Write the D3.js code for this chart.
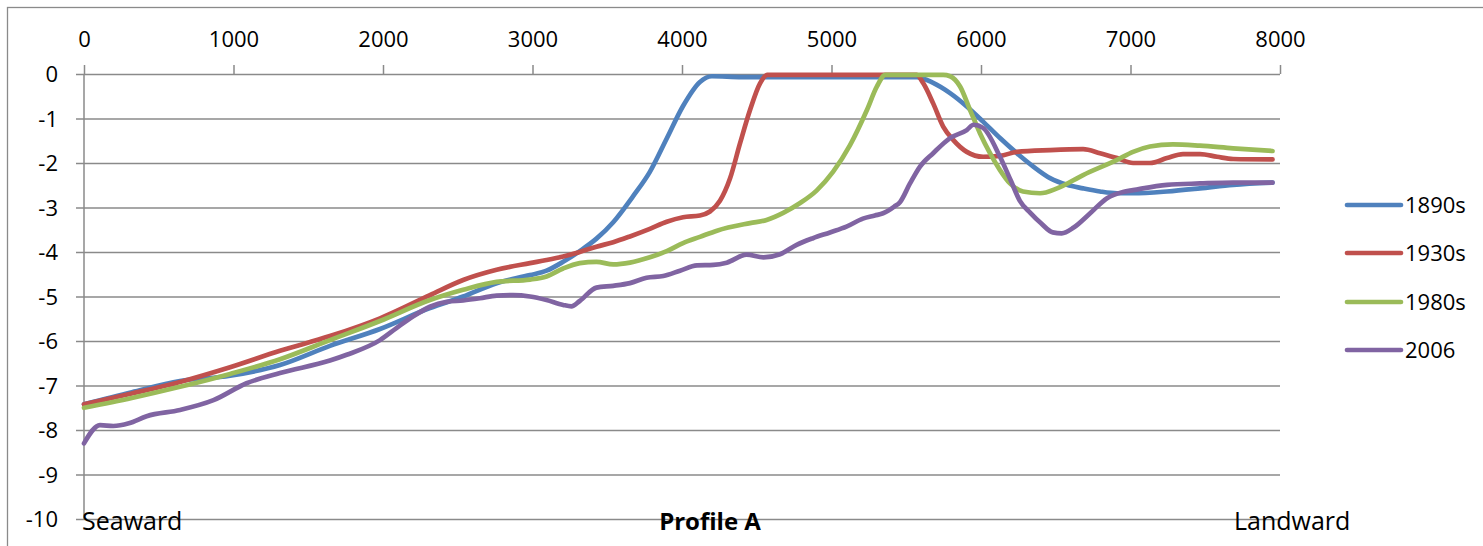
<!DOCTYPE html>
<html><head><meta charset="utf-8">
<script src="https://cdn.jsdelivr.net/npm/d3@7"></script>
<style>body{margin:0;background:#fff}svg{display:block}text{font-family:"Open Sans",sans-serif;fill:#000}</style>
</head><body>
<script>
const xTicks = [0,1000,2000,3000,4000,5000,6000,7000,8000];
const yTicks = [0,-1,-2,-3,-4,-5,-6,-7,-8,-9,-10];
const seriesNames = ["1890s","1930s","1980s","2006"];
const categoryLabels = ["Seaward","Profile A","Landward"];

const s1890 = [[0,-7.42],[320,-7.15],[642,-6.9],[977,-6.78],[1311,-6.54],[1645,-6.11],[1980,-5.73],[2314,-5.26],[2536,-5.0],[2760,-4.7],[2983,-4.52],[3094,-4.42],[3205,-4.22],[3316,-3.98],[3428,-3.7],[3540,-3.33],[3672,-2.75],[3785,-2.2],[3898,-1.45],[4007,-0.72],[4120,-0.18],[4200,-0.05],[4400,-0.07],[5000,-0.07],[5570,-0.07],[5680,-0.2],[5793,-0.43],[5905,-0.73],[6014,-1.07],[6127,-1.44],[6240,-1.78],[6350,-2.08],[6462,-2.34],[6575,-2.49],[6683,-2.57],[6796,-2.64],[6910,-2.68],[7017,-2.68],[7244,-2.64],[7465,-2.57],[7686,-2.49],[7950,-2.44]];
const s1930 = [[0,-7.42],[320,-7.18],[642,-6.92],[977,-6.59],[1311,-6.22],[1645,-5.89],[1980,-5.49],[2314,-4.97],[2536,-4.63],[2760,-4.4],[2983,-4.25],[3094,-4.18],[3205,-4.1],[3316,-4.0],[3428,-3.88],[3540,-3.78],[3652,-3.65],[3785,-3.48],[3898,-3.32],[4007,-3.22],[4120,-3.18],[4187,-3.09],[4254,-2.85],[4321,-2.35],[4388,-1.56],[4455,-0.81],[4522,-0.21],[4570,-0.02],[5000,-0.02],[5570,-0.02],[5614,-0.21],[5680,-0.66],[5747,-1.18],[5814,-1.48],[5905,-1.75],[6014,-1.86],[6127,-1.84],[6240,-1.75],[6462,-1.71],[6683,-1.69],[6796,-1.78],[6910,-1.89],[7017,-2.0],[7130,-2.0],[7244,-1.89],[7351,-1.8],[7465,-1.8],[7579,-1.86],[7686,-1.91],[7950,-1.92]];
const s1980 = [[0,-7.5],[320,-7.28],[642,-7.03],[977,-6.74],[1311,-6.41],[1645,-5.98],[1980,-5.55],[2314,-5.08],[2536,-4.85],[2760,-4.67],[2983,-4.62],[3094,-4.55],[3205,-4.37],[3316,-4.25],[3428,-4.22],[3540,-4.28],[3652,-4.24],[3785,-4.12],[3898,-3.98],[4007,-3.8],[4120,-3.66],[4234,-3.52],[4455,-3.35],[4566,-3.28],[4677,-3.12],[4790,-2.9],[4900,-2.62],[5010,-2.2],[5124,-1.6],[5237,-0.81],[5304,-0.28],[5360,-0.02],[5747,-0.02],[5793,-0.05],[5860,-0.28],[5927,-0.81],[5993,-1.33],[6060,-1.78],[6127,-2.16],[6194,-2.46],[6281,-2.64],[6395,-2.68],[6509,-2.57],[6683,-2.27],[6910,-1.93],[7017,-1.75],[7130,-1.63],[7284,-1.58],[7465,-1.61],[7686,-1.67],[7950,-1.73]];
const s2006 = [[0,-8.3],[107,-7.89],[196,-7.91],[300,-7.85],[419,-7.69],[642,-7.55],[866,-7.33],[1087,-6.95],[1311,-6.72],[1645,-6.44],[1757,-6.31],[1980,-5.98],[2090,-5.71],[2200,-5.45],[2314,-5.23],[2426,-5.12],[2536,-5.09],[2648,-5.04],[2760,-4.98],[2870,-4.97],[2983,-5.0],[3094,-5.08],[3205,-5.19],[3260,-5.22],[3316,-5.1],[3428,-4.8],[3540,-4.76],[3652,-4.7],[3763,-4.58],[3875,-4.54],[3987,-4.42],[4100,-4.3],[4210,-4.29],[4299,-4.24],[4432,-4.06],[4545,-4.12],[4656,-4.05],[4767,-3.84],[4876,-3.69],[4990,-3.56],[5100,-3.43],[5210,-3.25],[5290,-3.18],[5345,-3.13],[5420,-2.98],[5458,-2.88],[5525,-2.46],[5592,-2.08],[5680,-1.78],[5793,-1.44],[5905,-1.26],[5950,-1.14],[6014,-1.21],[6127,-1.86],[6200,-2.4],[6260,-2.85],[6330,-3.12],[6400,-3.35],[6480,-3.56],[6540,-3.58],[6620,-3.45],[6730,-3.13],[6843,-2.79],[6950,-2.65],[7017,-2.61],[7244,-2.49],[7465,-2.46],[7686,-2.44],[7950,-2.44]];
const seriesData = [s1890, s1930, s1980, s2006];
const colors = ["#4F81BD","#C0504D","#9BBB59","#8064A2"];

const W = 1483, H = 546;
const svg = d3.select("body").append("svg").attr("width", W).attr("height", H);

svg.append("rect").attr("x",7.5).attr("y",7.5).attr("width",W).attr("height",H)
  .attr("fill","none").attr("stroke","#8a8a8a").attr("stroke-width",1.3);

const x = d3.scaleLinear().domain([0,8000]).range([84,1280]);
const y = d3.scaleLinear().domain([-10,0]).range([519,74]);
const gridColor = "#8a8a8a";
const fmt = d => String(d);

// horizontal gridlines with left ticks
const yAxis = d3.axisLeft(y).tickValues(yTicks).tickSize(-(1280-76)).tickSizeOuter(0).tickFormat(fmt).tickPadding(0);
const gy = svg.append("g").attr("transform","translate(76,0)").call(yAxis);
gy.select(".domain").remove();
gy.selectAll(".tick line").attr("x1",0).attr("x2",1280-76).attr("stroke",gridColor).attr("stroke-width",1.5);
gy.selectAll(".tick text").attr("x",-18).attr("dy","0.36em").style("font-size","22px").style("font-family","'Open Sans',sans-serif").attr("fill","#000");

// vertical axis line
svg.append("line").attr("x1",84).attr("x2",84).attr("y1",y(0)).attr("y2",y(-10)).attr("stroke",gridColor).attr("stroke-width",1.5);

// top axis
const xAxis = d3.axisTop(x).tickValues(xTicks).tickSize(9).tickSizeOuter(0).tickFormat(fmt).tickPadding(18);
const gx = svg.append("g").attr("transform",`translate(0,${y(0)})`).call(xAxis);
gx.select(".domain").remove();
gx.selectAll(".tick line").attr("stroke",gridColor).attr("stroke-width",1.5);
gx.selectAll(".tick text").style("font-size","22px").style("font-family","'Open Sans',sans-serif").attr("fill","#000");

// lines
const line = d3.line().x(d=>x(d[0])).y(d=>y(d[1])).curve(d3.curveMonotoneX);
seriesData.forEach((s,i)=>{
  svg.append("path").datum(s).attr("d",line).attr("fill","none")
    .attr("stroke",colors[i]).attr("stroke-width",4.7).attr("stroke-linecap","round").attr("stroke-linejoin","round");
});

// category labels
svg.append("text").attr("x",82).attr("y",530).style("font-size","25px").text(categoryLabels[0]);
svg.append("text").attr("x",710).attr("y",530).attr("text-anchor","middle").style("font-size","24px").style("font-weight","bold").text(categoryLabels[1]);
svg.append("text").attr("x",1234).attr("y",530).style("font-size","25px").text(categoryLabels[2]);

// legend
const legendY = [205,253,302,350];
seriesNames.forEach((n,i)=>{
  svg.append("line").attr("x1",1347).attr("x2",1401).attr("y1",legendY[i]).attr("y2",legendY[i])
    .attr("stroke",colors[i]).attr("stroke-width",4.7).attr("stroke-linecap","round");
  svg.append("text").attr("x",1405).attr("y",legendY[i]).attr("dy","0.36em").style("font-size","22px").text(n);
});
</script>
</body></html>
